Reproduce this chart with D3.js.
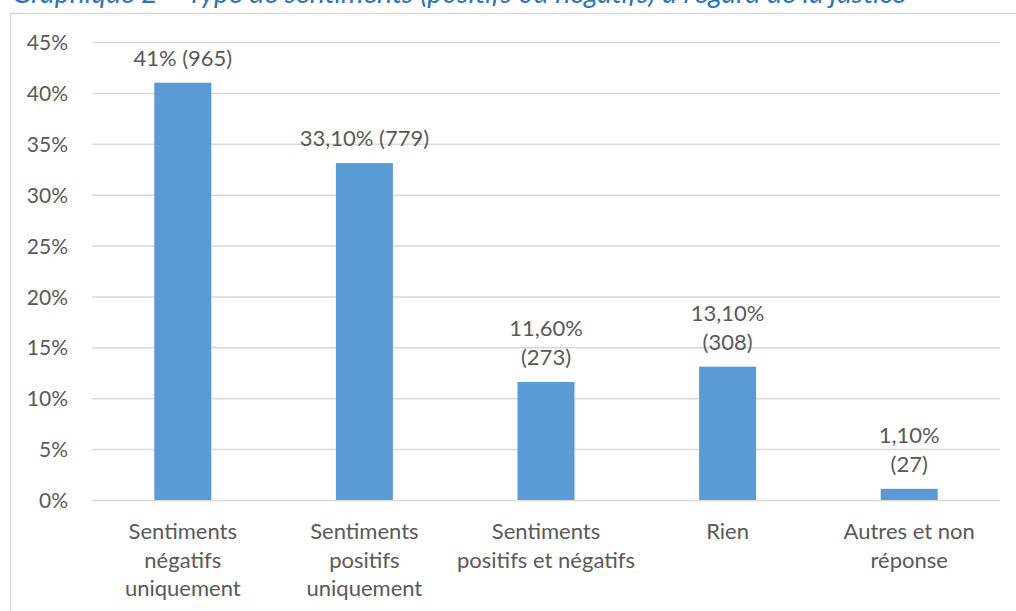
<!DOCTYPE html>
<html>
<head>
<meta charset="utf-8">
<script src="https://cdn.jsdelivr.net/npm/d3@7"></script>
<style>
  html, body { margin: 0; padding: 0; background: #fff; overflow: hidden; }
  svg { display: block; }
</style>
</head>
<body>
<svg id="chart" width="1016" height="611"></svg>
<script>
const titleText = "Graphique 2 – Type de sentiments (positifs ou négatifs) à l’égard de la justice";
const categories = [
  ["Sentiments", "négatifs", "uniquement"],
  ["Sentiments", "positifs", "uniquement"],
  ["Sentiments", "positifs et négatifs"],
  ["Rien"],
  ["Autres et non", "réponse"]
];
const values = [41, 33.1, 11.6, 13.1, 1.1];
const valueLabels = [
  ["41% (965)"],
  ["33,10% (779)"],
  ["11,60%", "(273)"],
  ["13,10%", "(308)"],
  ["1,10%", "(27)"]
];
const yTicks = [0, 5, 10, 15, 20, 25, 30, 35, 40, 45];
const yTickLabels = ["0%", "5%", "10%", "15%", "20%", "25%", "30%", "35%", "40%", "45%"];

const FONT = "Lato, 'Open Sans', sans-serif";
const FS = 22;
const LINE = 28.6;
const TEXT = "#595959";
const GRID = "#d9d9d9";
const BAR = "#5b9bd5";

const svg = d3.select("#chart");

// title (clipped at the top like the reference)
svg.append("text")
  .attr("x", 12).attr("y", 3)
  .attr("font-family", FONT).attr("font-style", "italic")
  .attr("font-size", 28.5).attr("fill", "#2e75b6")
  .text(titleText);

// chart frame
svg.append("rect")
  .attr("x", 10.5).attr("y", 13.5)
  .attr("width", 1100).attr("height", 700)
  .attr("fill", "none").attr("stroke", GRID).attr("stroke-width", 1.5);

const mLeft = 92, mRight = 1000, mTop = 42, mBottom = 500;
const x = d3.scaleBand().domain(d3.range(categories.length))
  .range([mLeft, mRight]).paddingInner(0.686).paddingOuter(0.343);
const y = d3.scaleLinear().domain([0, 45]).range([mBottom, mTop]);

// gridlines
const yAxis = d3.axisLeft(y).tickValues(yTicks)
  .tickSize(-(mRight - mLeft)).tickPadding(24)
  .tickFormat((d, i) => yTickLabels[i]);
const gy = svg.append("g").attr("transform", `translate(${mLeft},0)`).call(yAxis);
gy.select(".domain").remove();
gy.selectAll(".tick line").attr("stroke", GRID).attr("stroke-width", 1.5);
gy.selectAll(".tick text")
  .attr("font-family", FONT).attr("font-size", 21).attr("fill", TEXT)
  .attr("x", 68 - mLeft).attr("dy", "0.36em");

// bars
svg.append("g").selectAll("rect").data(values).join("rect")
  .attr("x", (d, i) => x(i))
  .attr("y", d => y(d))
  .attr("width", x.bandwidth())
  .attr("height", d => y(0) - y(d))
  .attr("fill", BAR);

// value labels
const vl = svg.append("g").selectAll("text").data(valueLabels).join("text")
  .attr("font-family", FONT).attr("font-size", FS).attr("fill", TEXT)
  .attr("text-anchor", "middle");
vl.each(function(lines, i) {
  const cx = x(i) + x.bandwidth() / 2;
  const base = y(values[i]) - 17 - (lines.length - 1) * LINE;
  d3.select(this).selectAll("tspan").data(lines).join("tspan")
    .attr("x", cx).attr("y", (d, j) => base + j * LINE).text(d => d);
});

// category labels
const cl = svg.append("g").selectAll("text").data(categories).join("text")
  .attr("font-family", FONT).attr("font-size", FS).attr("fill", TEXT)
  .attr("text-anchor", "middle");
cl.each(function(lines, i) {
  const cx = x(i) + x.bandwidth() / 2;
  d3.select(this).selectAll("tspan").data(lines).join("tspan")
    .attr("x", cx).attr("y", (d, j) => 539 + j * LINE).text(d => d);
});
</script>
</body>
</html>
